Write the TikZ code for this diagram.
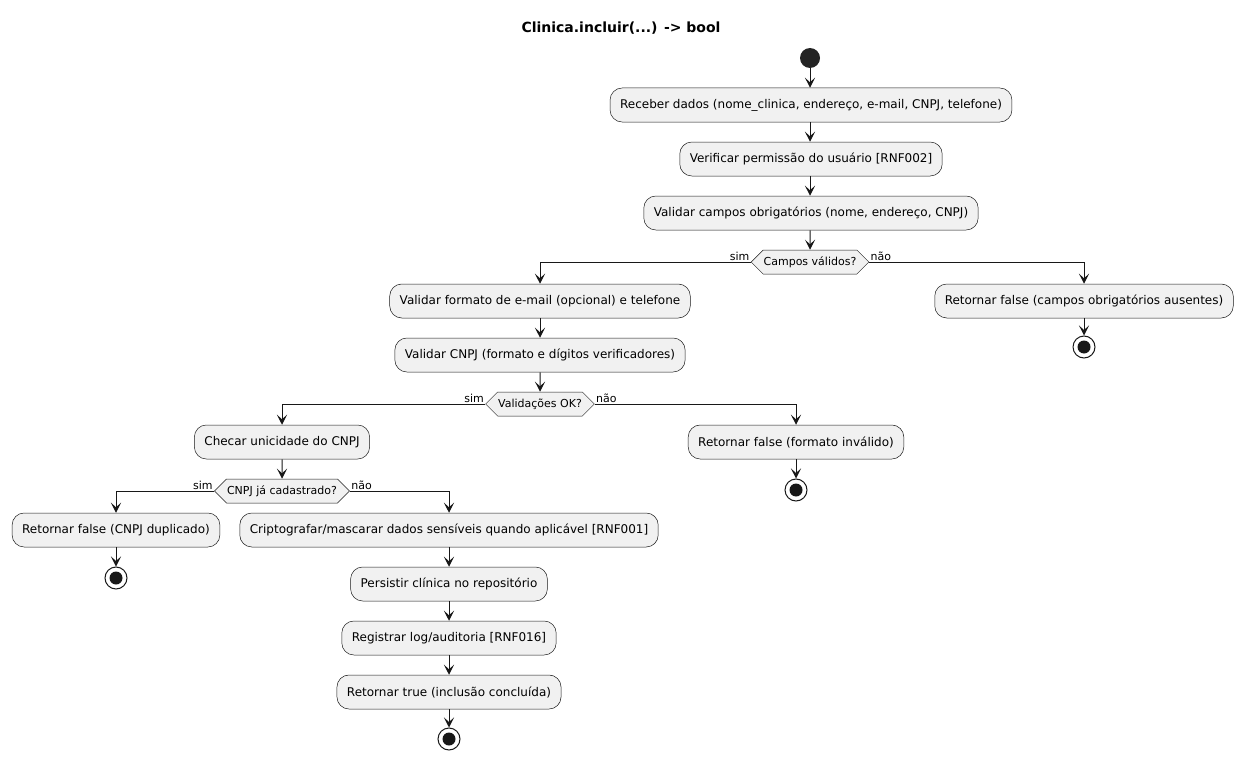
\documentclass[tikz,border=0pt]{standalone}
\usepackage{fontspec}
\setmainfont{DejaVu Sans}
\usetikzlibrary{arrows.meta,shapes.symbols}
\definecolor{actfill}{HTML}{F1F1F1}
\definecolor{umlline}{HTML}{181818}
\tikzset{
  act/.style={draw=umlline,line width=0.5pt,fill=actfill,rounded corners=12pt,
    minimum height=34pt,inner xsep=10pt,font=\fontsize{12}{14}\selectfont},
  dec/.style={draw=umlline,line width=0.5pt,fill=actfill,signal,
    signal to=west and east,signal pointer angle=90,minimum height=24pt,
    inner xsep=0.5pt,font=\fontsize{11}{13}\selectfont},
  startdot/.style={circle,fill=umlline!95!white,minimum size=20pt,inner sep=0pt},
  stopdot/.style={circle,draw=umlline,line width=1pt,fill=white,minimum size=22pt,inner sep=0pt,
    path picture={\fill[umlline] (path picture bounding box.center) circle (6.5pt);}},
  flow/.style={draw=umlline,line width=1pt,-{Stealth[length=10pt,width=10pt,inset=4.5pt]}},
  lbl/.style={font=\fontsize{11}{13}\selectfont,inner sep=1pt}
}
\begin{document}
\begin{tikzpicture}[x=1pt,y=-1pt]
      \useasboundingbox (0,0) rectangle (1243,760);
      \node[font=\bfseries\fontsize{14}{16}\selectfont] (title) at (621,28) {Clinica.incluir(...) -> bool};

      \node[startdot] (start) at (810,58) {};
      \node[act] (receber) at (811,105) {Receber dados (nome\_clinica, endereço, e-mail, CNPJ, telefone)};
      \node[act] (permissao) at (811,159) {Verificar permissão do usuário [RNF002]};
      \node[act] (obrig) at (811,213) {Validar campos obrigatórios (nome, endereço, CNPJ)};
      \node[dec] (campos) at (810,262) {Campos válidos?};

      \node[act] (formato) at (540,301) {Validar formato de e-mail (opcional) e telefone};
      \node[act] (cnpj) at (540,355) {Validar CNPJ (formato e dígitos verificadores)};
      \node[dec] (valok) at (540,404) {Validações OK?};

      \node[act] (ausentes) at (1084,301) {Retornar false (campos obrigatórios ausentes)};
      \node[stopdot] (fimA) at (1084,347) {};

      \node[act] (unicidade) at (282,442) {Checar unicidade do CNPJ};
      \node[dec] (cadastrado) at (282,491) {CNPJ já cadastrado?};

      \node[act] (invalido) at (796,442) {Retornar false (formato inválido)};
      \node[stopdot] (fimB) at (796,490) {};

      \node[act] (duplicado) at (116,530) {Retornar false (CNPJ duplicado)};
      \node[stopdot] (fimC) at (116,578) {};

      \node[act] (cripto) at (449,530) {Criptografar/mascarar dados sensíveis quando aplicável [RNF001]};
      \node[act] (persistir) at (449,584) {Persistir clínica no repositório};
      \node[act] (log) at (449,638) {Registrar log/auditoria [RNF016]};
      \node[act] (sucesso) at (449,692) {Retornar true (inclusão concluída)};
      \node[stopdot] (fimD) at (449,739) {};

      \draw[flow] (start) -- (start|-receber.north);
      \draw[flow] (start|-receber.south) -- (start|-permissao.north);
      \draw[flow] (start|-permissao.south) -- (start|-obrig.north);
      \draw[flow] (start|-obrig.south) -- (campos);
      \draw[flow] (campos.west) node[lbl,anchor=south east]{sim} -| (formato);
      \draw[flow] (campos.east) node[lbl,anchor=south west]{não} -| (ausentes);
      \draw[flow] (ausentes) -- (fimA);
      \draw[flow] (formato) -- (cnpj);
      \draw[flow] (cnpj) -- (valok);
      \draw[flow] (valok.west) node[lbl,anchor=south east]{sim} -| (unicidade);
      \draw[flow] (valok.east) node[lbl,anchor=south west]{não} -| (invalido);
      \draw[flow] (invalido) -- (fimB);
      \draw[flow] (unicidade) -- (cadastrado);
      \draw[flow] (cadastrado.west) node[lbl,anchor=south east]{sim} -| (duplicado);
      \draw[flow] (cadastrado.east) node[lbl,anchor=south west]{não} -| (cripto);
      \draw[flow] (duplicado) -- (fimC);
      \draw[flow] (cripto) -- (persistir);
      \draw[flow] (persistir) -- (log);
      \draw[flow] (log) -- (sucesso);
      \draw[flow] (sucesso) -- (fimD);
\end{tikzpicture}
\end{document}
